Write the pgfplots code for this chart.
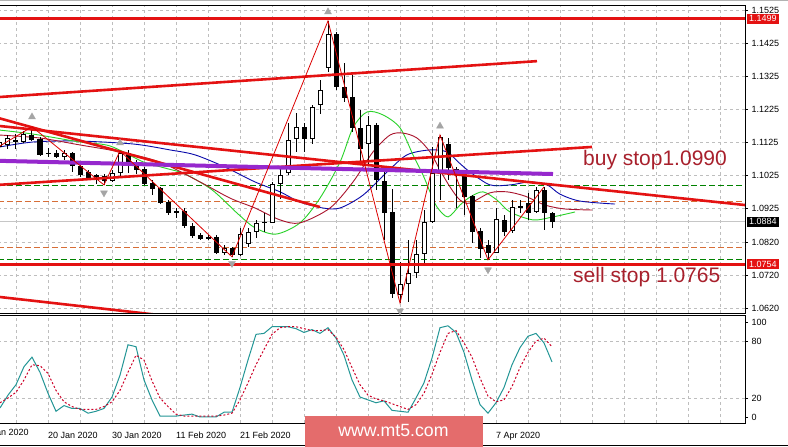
\documentclass[border=0pt]{standalone}
\usepackage{pgfplots}
\pgfplotsset{compat=1.18}
\usepackage{pgfplotstable}
\usepackage{fontspec}
\setmainfont{Liberation Sans}
\definecolor{trred}{RGB}{228,18,18}
\definecolor{zzred}{RGB}{220,0,0}
\definecolor{purp}{RGB}{150,40,205}
\definecolor{mablue}{RGB}{10,10,170}
\definecolor{magreen}{RGB}{40,210,40}
\definecolor{madred}{RGB}{170,20,45}
\definecolor{dgreen}{RGB}{0,130,0}
\definecolor{dorange}{RGB}{215,110,55}
\definecolor{stteal}{RGB}{35,150,150}
\definecolor{stred}{RGB}{205,0,40}
\definecolor{txtred}{RGB}{168,32,44}
\definecolor{wmred}{RGB}{228,108,108}
\definecolor{gridgray}{RGB}{190,190,190}
\definecolor{arrgray}{RGB}{165,165,165}

\pgfplotstableread{
i o h l c
-6 1.1110 1.1131 1.1101 1.1125
-5 1.1116 1.1146 1.1104 1.1137
-4 1.1125 1.1149 1.1104 1.1131
-3 1.1125 1.1158 1.1122 1.1149
-2 1.1146 1.1171 1.1128 1.1131
-1 1.1134 1.1140 1.1083 1.1086
0 1.1092 1.1107 1.1080 1.1089
1 1.1092 1.1101 1.1077 1.1080
2 1.1080 1.1101 1.1071 1.1092
3 1.1092 1.1095 1.1034 1.1052
4 1.1052 1.1058 1.1019 1.1025
5 1.1034 1.1040 1.1010 1.1013
6 1.1025 1.1028 1.0998 1.1022
7 1.1022 1.1028 1.0995 1.1007
8 1.1007 1.1040 1.1004 1.1031
9 1.1031 1.1098 1.1016 1.1092
10 1.1092 1.1101 1.1031 1.1061
11 1.1058 1.1071 1.1028 1.1040
12 1.1043 1.1049 1.0995 1.0998
13 1.1001 1.1010 1.0964 1.0983
14 1.0986 1.0989 1.0937 1.0940
15 1.0943 1.0949 1.0904 1.0910
16 1.0910 1.0925 1.0895 1.0916
17 1.0916 1.0925 1.0865 1.0871
18 1.0871 1.0880 1.0834 1.0840
19 1.0843 1.0849 1.0828 1.0831
20 1.0837 1.0843 1.0828 1.0834
21 1.0837 1.0843 1.0786 1.0789
22 1.0789 1.0813 1.0783 1.0804
23 1.0804 1.0807 1.0777 1.0783
24 1.0783 1.0865 1.0780 1.0846
25 1.0816 1.0865 1.0807 1.0852
26 1.0852 1.0889 1.0834 1.0880
27 1.0880 1.0910 1.0852 1.0883
28 1.0880 1.1004 1.0880 1.0998
29 1.0998 1.1049 1.0952 1.1025
30 1.1031 1.1183 1.1025 1.1131
31 1.1134 1.1213 1.1095 1.1171
32 1.1171 1.1183 1.1095 1.1134
33 1.1134 1.1237 1.1119 1.1231
34 1.1237 1.1313 1.1210 1.1283
35 1.1349 1.1492 1.1337 1.1452
36 1.1452 1.1458 1.1283 1.1292
37 1.1292 1.1364 1.1246 1.1258
38 1.1261 1.1328 1.1155 1.1168
39 1.1168 1.1222 1.1055 1.1104
40 1.1119 1.1204 1.1055 1.1177
41 1.1177 1.1183 1.0980 1.1010
42 1.1007 1.1040 1.0828 1.0910
43 1.0913 1.0983 1.0652 1.0665
44 1.0661 1.0761 1.0637 1.0695
45 1.0695 1.0828 1.0640 1.0728
46 1.0728 1.0828 1.0713 1.0786
47 1.0786 1.0919 1.0758 1.0883
48 1.0883 1.1110 1.0880 1.1031
49 1.1031 1.1146 1.0949 1.1140
50 1.1119 1.1137 1.1010 1.1046
51 1.1043 1.1049 1.0925 1.1031
52 1.1031 1.1040 1.0904 1.0958
53 1.0961 1.0964 1.0819 1.0852
54 1.0855 1.0865 1.0774 1.0801
55 1.0813 1.0828 1.0768 1.0789
56 1.0789 1.0925 1.0789 1.0892
57 1.0889 1.0904 1.0840 1.0852
58 1.0855 1.0949 1.0849 1.0928
59 1.0925 1.0949 1.0910 1.0931
60 1.0940 1.0971 1.0889 1.0910
61 1.0913 1.0989 1.0910 1.0980
62 1.0980 1.0989 1.0858 1.0910
63 1.0910 1.0913 1.0865 1.0884
}\candles

\pgfplotstableread{
i k d
-6 9.5 15
-5 23 20
-4 34 26
-3 53 39
-2 63 55
-1 47 54
0 25 46
1 6 28
2 12 16
3 9 11
4 9 8
5 4 8
6 6 8
7 9 11
8 21 16
9 44 28
10 76 47
11 74 65
12 39 60
13 18 38
14 1 20
15 1 11
16 1 3
17 2 1
18 3 1
19 0 1
20 0 1
21 0 1
22 5 2
23 5 4
24 31 18
25 60 36
26 87 55
27 88 71
28 95 87
29 95 94
30 95 95
31 93 95
32 89 93
33 92 91
34 88 91
35 94 92
36 83 84
37 65 71
38 39 52
39 21 34
40 18 23
41 15 19
42 17 17
43 7 14
44 6 11
45 5 8
46 20 13
47 36 25
48 62 45
49 94 68
50 96 88
51 89 91
52 68 78
53 39 63
54 13 41
55 4 22
56 15 16
57 31 18
58 55 32
59 73 52
60 85 68
61 88 80
62 78 83
63 58 74
}\stoch

\begin{document}
\begin{tikzpicture}
\path[use as bounding box] (0,0) rectangle (788pt,447pt);
\fill[white] (0,0) rectangle (788pt,447pt);
\begin{axis}[
  at={(-2pt,134pt)}, anchor=south west, scale only axis,
  width=747pt, height=308pt,
  xmin=-6.25, xmax=87.125, ymin=1.06069, ymax=1.15401,
  xtick={-4,0,...,84}, xticklabels={},
  ytick={1.0620,1.0720,1.0820,1.0925,1.1025,1.1125,1.1225,1.1325,1.1425,1.1525},
  yticklabels={1.0620,1.0720,1.0820,1.0925,1.1025,1.1125,1.1225,1.1325,1.1425,1.1525},
  yticklabel pos=right, ytick pos=right,
  xtick style={draw=none},
  ytick style={draw=black, line width=0.7pt},
  tick align=outside, major tick length=3pt,
  xmajorgrids, ymajorgrids,
  grid style={gridgray, line width=0.7pt, dash pattern=on 3pt off 3pt},
  axis line style={black, line width=0.9pt},
  tick label style={font=\fontsize{9}{10}\selectfont},
  clip mode=individual,
]
% horizontal levels
\addplot[dgreen, line width=0.8pt, dash pattern=on 6pt off 3pt] coordinates {(-6.25,1.0992) (87.125,1.0992)};
\addplot[dgreen, line width=0.8pt, dash pattern=on 6pt off 3pt] coordinates {(-6.25,1.0768) (87.125,1.0768)};
\addplot[dorange, line width=0.8pt, dash pattern=on 6pt off 3pt] coordinates {(-6.25,1.0946) (87.125,1.0946)};
\addplot[dorange, line width=0.8pt, dash pattern=on 6pt off 3pt] coordinates {(-6.25,1.0807) (87.125,1.0807)};
\addplot[gray!45, line width=0.8pt] coordinates {(-6.25,1.0884) (87.125,1.0884)};
% moving averages
\addplot[mablue, line width=0.9pt, smooth] coordinates {(-6,1.1110) (-1.875,1.1125) (3.625,1.1128) (10.625,1.1119) (15.25,1.1101) (18.375,1.1086) (22.125,1.1049) (25.875,1.1004) (29,1.0974) (31.5,1.0943) (34.375,1.0925) (36.5,1.0925) (39.375,1.0964) (42.375,1.1034) (44.875,1.1086) (47.75,1.1101) (49.875,1.1095) (51.25,1.1065) (52.75,1.1034) (55.25,1.0995) (57.75,1.0995) (60.25,1.1004) (62.4,1.0995) (64,1.0967) (66.5,1.0946) (70.875,1.0937)};
\addplot[magreen, line width=0.9pt, smooth] coordinates {(-6,1.1161) (-1.875,1.1149) (4,1.1125) (7.75,1.1113) (11.875,1.1065) (14.625,1.1046) (17.125,1.1028) (20.5,1.0980) (23.75,1.0907) (25.875,1.0865) (28.5,1.0846) (31.5,1.0880) (34,1.0955) (36.5,1.1064) (38.125,1.1168) (39.875,1.1216) (41.875,1.1207) (44,1.1168) (45.625,1.1086) (46.875,1.1025) (47.75,1.0974) (48.625,1.0928) (50,1.0898) (51.5,1.0934) (52.75,1.0958) (54.375,1.0974) (56.125,1.0949) (57.75,1.0913) (60.625,1.0889) (63.125,1.0898) (65.875,1.0913)};
\addplot[madred, line width=0.9pt, smooth] coordinates {(-6,1.1146) (-1,1.1137) (4,1.1116) (9,1.1095) (14,1.1064) (19,1.1004) (22.75,1.0955) (25.875,1.0925) (29,1.0889) (31.5,1.0880) (35.25,1.0925) (38.125,1.1004) (40.625,1.1095) (42.75,1.1146) (44.375,1.1152) (46.125,1.1137) (47.75,1.1095) (49,1.1040) (50.25,1.0989) (51.5,1.0949) (52.75,1.0940) (55.25,1.0971) (57.375,1.0974) (59.625,1.0961) (62.125,1.0934) (64.625,1.0922) (68,1.0919)};
% candles: wicks
\addplot[draw=none, mark=none, error bars/.cd, y dir=both, y explicit, error mark=none,
  error bar style={draw=black, line width=1pt}]
  table[x=i, y expr={(\thisrow{h}+\thisrow{l})/2}, y error expr={(\thisrow{h}-\thisrow{l})/2}] {\candles};
% candles: bodies
\addplot[draw=none, mark=none, error bars/.cd, y dir=both, y explicit, error mark=none,
  error bar style={draw=black, line width=5pt}]
  table[x=i, y expr={(\thisrow{o}+\thisrow{c})/2}, y error expr={max(abs(\thisrow{c}-\thisrow{o})/2,0.00016)}] {\candles};
\addplot[draw=none, mark=none, error bars/.cd, y dir=both, y explicit, error mark=none,
  error bar style={draw=white, line width=3pt}]
  table[x=i, y expr={(\thisrow{o}+\thisrow{c})/2}, y error expr={max((\thisrow{c}-\thisrow{o})/2-0.0003,0)}] {\candles};
% trend lines
\addplot[trred, line width=3pt] coordinates {(-6.25,1.1499) (87.125,1.1499)};
\addplot[trred, line width=3pt] coordinates {(-6.25,1.0754) (87.125,1.0754)};
\addplot[trred, line width=2.6pt] coordinates {(-6.25,1.1261) (61.125,1.1370)};
\addplot[trred, line width=2.6pt] coordinates {(-6.25,1.0995) (68,1.1110)};
\addplot[trred, line width=2.6pt] coordinates {(-6.25,1.1174) (87.125,1.0934)};
\addplot[trred, line width=2.6pt] coordinates {(-6.25,1.1198) (34,1.0928)};
\addplot[trred, line width=2.6pt] coordinates {(-6.25,1.0656) (16,1.0595)};
\addplot[purp, line width=4pt] coordinates {(-6.25,1.1068) (63.125,1.1028)};
% zigzag
\addplot[zzred, line width=0.8pt] coordinates {(-6,1.1113) (-2,1.1171) (7,1.0995) (9,1.1098) (23,1.0777) (35,1.1492) (44,1.0637) (49,1.1146) (55,1.0768) (62,1.0989)};
\addplot[only marks, mark=triangle*, mark size=4pt, mark options={fill=arrgray, draw=arrgray}] coordinates {(-2,1.1201) (9,1.1122) (35,1.1519) (49,1.1173)};
\addplot[only marks, mark=triangle*, mark size=4pt, mark options={fill=arrgray, draw=arrgray, rotate=180}] coordinates {(7,1.0971) (23,1.0757) (44,1.0613) (55,1.0738)};
% price labels
\node[fill=trred, text=white, anchor=west, inner xsep=2pt, inner ysep=1pt, minimum height=10pt, font=\fontsize{9}{10}\selectfont, xshift=2pt] at (axis cs:87.125,1.1499) {1.1499};
\node[fill=black, text=white, anchor=west, inner xsep=2pt, inner ysep=1pt, minimum height=10pt, font=\fontsize{9}{10}\selectfont, xshift=2pt] at (axis cs:87.125,1.0884) {1.0884};
\node[fill=trred, text=white, anchor=west, inner xsep=2pt, inner ysep=1pt, minimum height=10pt, font=\fontsize{9}{10}\selectfont, xshift=2pt] at (axis cs:87.125,1.0754) {1.0754};
\end{axis}

\begin{axis}[
  at={(-2pt,24pt)}, anchor=south west, scale only axis,
  width=747pt, height=108pt,
  xmin=-6.25, xmax=87.125, ymin=-6.32, ymax=107.37,
  xtick={-4,0,...,84},
  xticklabels={,20 Jan 2020,,30 Jan 2020,,11 Feb 2020,,21 Feb 2020,,,,,,,,7 Apr 2020,,,,,,,},
  xticklabel style={anchor=base west, inner xsep=0pt, yshift=-13pt},
  ytick={0,20,80,100}, yticklabels={0,20,80,100},
  yticklabel pos=right, ytick pos=right,
  xtick style={draw=none},
  ytick style={draw=black, line width=0.7pt},
  tick align=outside, major tick length=3pt,
  xmajorgrids,
  extra y ticks={20,80}, extra y tick labels={},
  extra y tick style={grid=major, major tick length=0pt},
  grid style={gridgray, line width=0.7pt, dash pattern=on 3pt off 3pt},
  axis line style={black, line width=0.9pt},
  tick label style={font=\fontsize{9}{10}\selectfont},
  clip=false,
]
\addplot[stteal, line width=1pt] table[x=i, y=k] {\stoch};
\addplot[stred, line width=1pt, dash pattern=on 2pt off 2pt] table[x=i, y=d] {\stoch};
\node[anchor=base west, inner xsep=0pt, font=\fontsize{9}{10}\selectfont, yshift=-13pt] at (axis cs:-8,-6.32) {8 Jan 2020};
\end{axis}

\draw[gray!60, line width=1pt] (0,446.5pt) -- (788pt,446.5pt);
\draw[black, line width=0.8pt] (0,2pt) -- (788pt,2pt);

\node[anchor=base west, text=txtred, inner sep=0pt, font=\fontsize{21}{22}\selectfont] at (583pt,281pt) {buy stop1.0990};
\node[anchor=base west, text=txtred, inner sep=0pt, font=\fontsize{21}{22}\selectfont] at (573pt,164pt) {sell stop 1.0765};

\fill[wmred] (305pt,0pt) rectangle (483pt,31pt);
\node[anchor=base, text=white, inner sep=0pt, font=\fontsize{17.7}{18}\selectfont] at (393.5pt,10.3pt) {www.mt5.com};
\end{tikzpicture}
\end{document}
